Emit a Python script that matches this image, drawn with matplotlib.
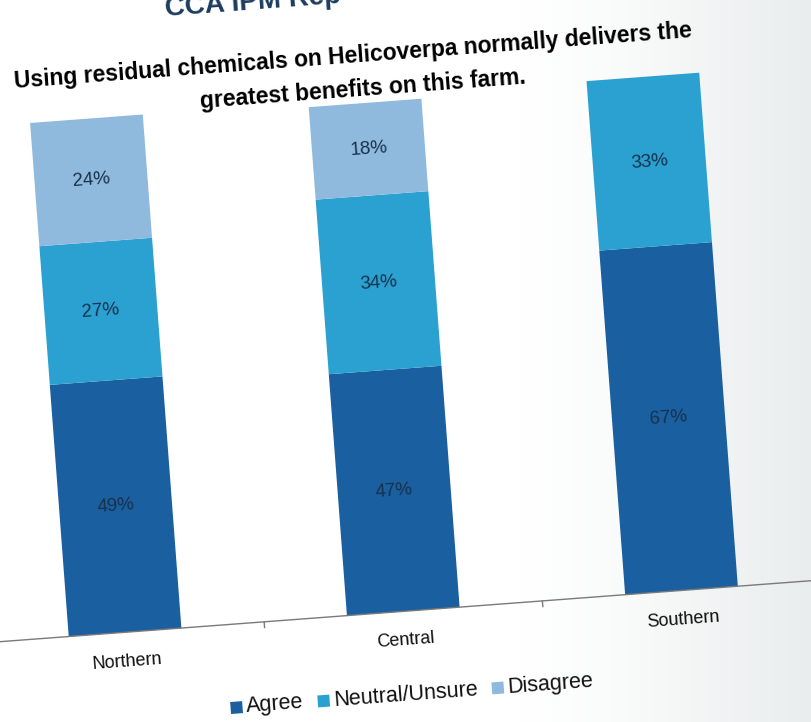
import numpy as np
import matplotlib
matplotlib.use("Agg")
from matplotlib import pyplot as plt
from matplotlib.patches import Rectangle
from matplotlib.transforms import Affine2D
from matplotlib.font_manager import FontProperties

# survey responses by region (%)
regions = ["Northern", "Central", "Southern"]
agree = [49, 47, 67]
neutral = [27, 34, 33]
disagree = [24, 18, 0]
series = ["Agree", "Neutral/Unsure", "Disagree"]
colors = ["#1a5f9f", "#2aa1d1", "#8fbade"]

header = "CCA IPM Rep"
title1 = "Using residual chemicals on Helicoverpa normally delivers the"
title2 = "greatest benefits on this farm."

W, H = 811, 722
TILT = 4.3          # page sits a few degrees off square
SLOT = 279.0        # px per category
YPX = 5.15          # px per percent
X0, Y0 = 105.5, 111.5

plt.rcParams["font.family"] = ["Liberation Sans", "DejaVu Sans"]
fig = plt.figure(figsize=(W / 100, H / 100), dpi=100)
fig.patch.set_facecolor("white")

# grey show-through towards the right edge of the page
bg = fig.add_axes([0, 0, 1, 1], zorder=-5)
ramp = np.clip((np.linspace(0, 1, W) - 0.64) / 0.36, 0, 1) ** 1.3
grey = np.array([0.915, 0.93, 0.93])
img = 1 - ramp[None, :, None] * (1 - grey[None, None, :])
img = np.repeat(img, H, axis=0)
bg.imshow(img, aspect="auto", extent=[0, 1, 0, 1])
bg.set_axis_off()

ax = fig.add_axes([0, Y0 / H, 1, 515 / H])
ax.set_xlim(-X0 / SLOT, (W - X0) / SLOT)
ax.set_ylim(0, 100)
ax.set_axis_off()
ax.patch.set_alpha(0)

rot = ax.transData + Affine2D().rotate_deg_around(W / 2, H / 2, TILT)

def put(x, y, s, **kw):
    return ax.text(x, y, s, transform=rot, rotation=TILT,
                   rotation_mode="anchor", **kw)

x = np.arange(len(regions))
bottom = np.zeros(len(regions))
for vals, c in zip([agree, neutral, disagree], colors):
    bars = ax.bar(x, vals, 0.405, bottom=bottom, color=c, linewidth=0)
    for b in bars:
        b.set_transform(rot)
        b.set_clip_on(False)
    for i, v in enumerate(vals):
        if v > 0:
            put(i, bottom[i] + v / 2, f"{v}%", ha="center", va="center",
                fontsize=13.5, color="#18324c")
    bottom += vals

# category axis
xl = ax.get_xlim()
ax.plot([xl[0] - 0.3, xl[1] + 0.3], [0, 0], color="#7a7a7a", lw=1,
        transform=rot, clip_on=False)
for t in [0.5, 1.5]:
    ax.plot([t, t], [0, -1.1], color="#7a7a7a", lw=1, transform=rot,
            clip_on=False)
for i, name in enumerate(regions):
    put(i, -5.7, name, ha="center", va="center", fontsize=13, color="#111111")

# titles
put(0.31, 118.8, header, ha="left", va="baseline", fontsize=20,
    fontweight="bold", color="#1d3c5f")
put(0.97, 108.2, title1, ha="center", va="center", fontsize=16.5,
    fontweight="bold", color="black")
put(0.995, 101.6, title2, ha="center", va="center", fontsize=16.5,
    fontweight="bold", color="black")

# legend laid out by hand so it tilts with the page
renderer = fig.canvas.get_renderer()
fp = FontProperties(family=["Liberation Sans", "DejaVu Sans"], size=15.5)
widths = [renderer.get_text_width_height_descent(s, fp, ismath=False)[0]
          for s in series]
sq, gap, sep = 12, 4, 14
total = sum(sq + gap + w for w in widths) + sep * (len(series) - 1)
px = 387 - total / 2
ly = -16.2
for s, c, w in zip(series, colors, widths):
    r = Rectangle(((px - X0) / SLOT, ly - sq / 2 / YPX), sq / SLOT, sq / YPX,
                  facecolor=c, edgecolor="none", transform=rot, clip_on=False)
    ax.add_patch(r)
    put((px + sq + gap - X0) / SLOT, ly, s, ha="left", va="center",
        fontsize=15.5, color="#111111")
    px += sq + gap + w + sep

fig.savefig("out.png", dpi=100, facecolor="white")
